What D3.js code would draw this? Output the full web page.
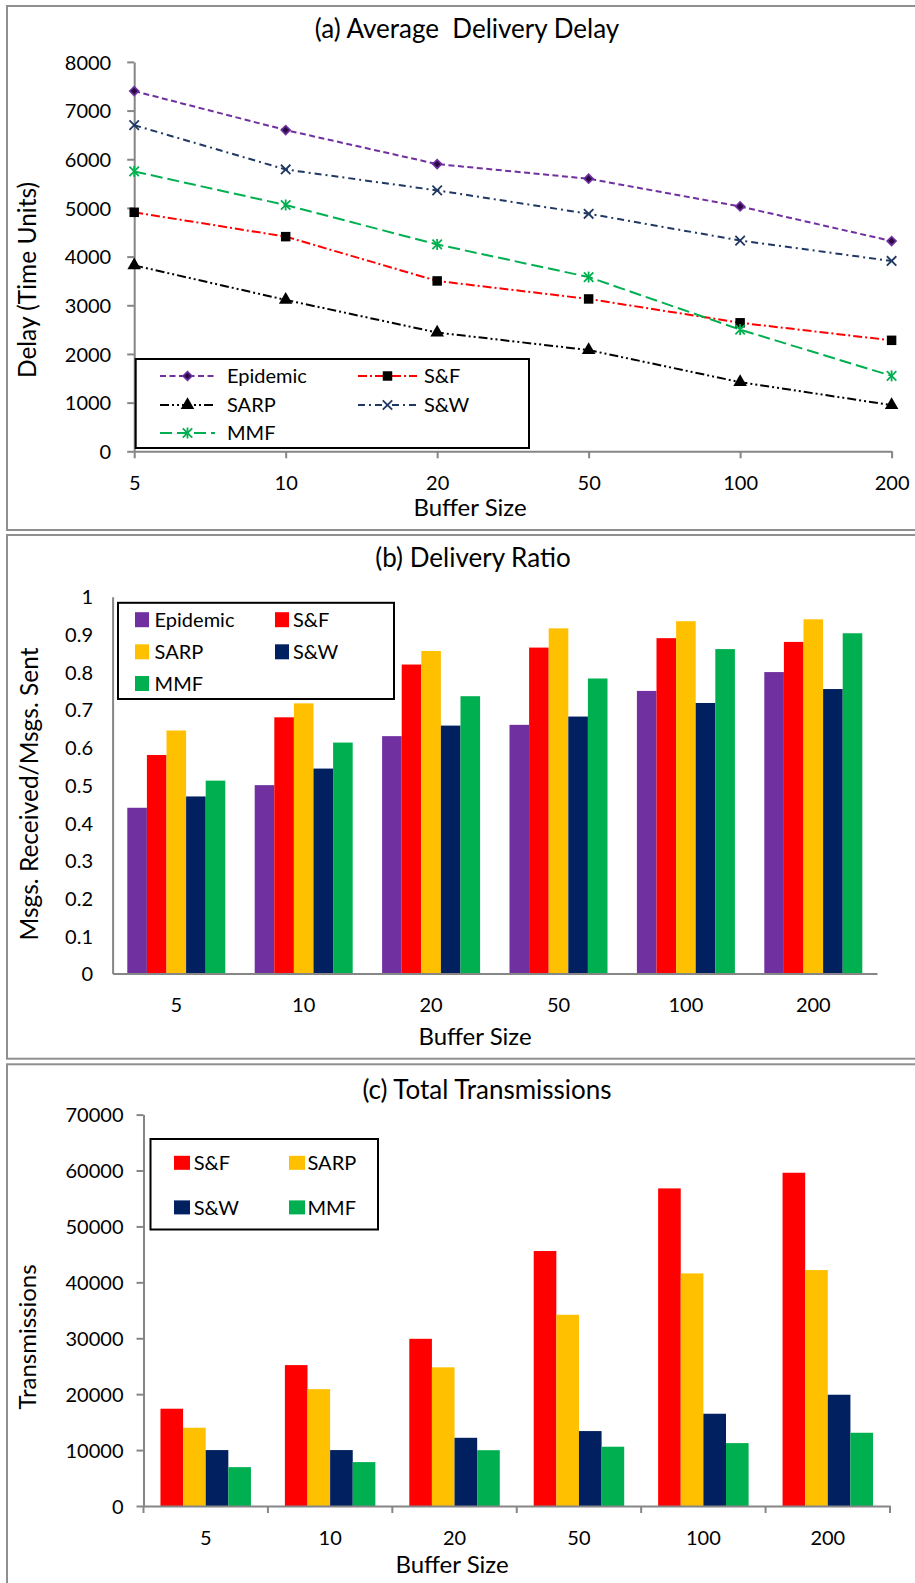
<!DOCTYPE html>
<html>
<head>
<meta charset="utf-8">
<script src="https://cdn.jsdelivr.net/npm/d3@7"></script>
<style>
  body { margin: 0; background: #fff; }
  svg { display: block; }
  text { font-family: Lato, "Open Sans", "Noto Sans", sans-serif; fill: #000; white-space: pre; }
</style>
</head>
<body>
<script>
// ---- data ----
const bufferSizes = ["5", "10", "20", "50", "100", "200"];

// (a) average delivery delay, in time units
const delayEpidemic = [7400, 6600, 5900, 5600, 5030, 4320];
const delaySF       = [4910, 4410, 3500, 3130, 2640, 2280];
const delaySARP     = [3820, 3110, 2440, 2080, 1420, 950];
const delaySW       = [6700, 5790, 5360, 4880, 4330, 3910];
const delayMMF      = [5750, 5060, 4250, 3580, 2500, 1550];
const delayTicks    = [0, 1000, 2000, 3000, 4000, 5000, 6000, 7000, 8000];

// (b) delivery ratio
const ratioEpidemic = [0.44, 0.50, 0.63, 0.66, 0.75, 0.80];
const ratioSF       = [0.58, 0.68, 0.82, 0.865, 0.89, 0.88];
const ratioSARP     = [0.645, 0.717, 0.856, 0.916, 0.935, 0.94];
const ratioSW       = [0.47, 0.544, 0.658, 0.682, 0.718, 0.755];
const ratioMMF      = [0.512, 0.613, 0.736, 0.783, 0.861, 0.903];
const ratioTicks    = [0, 0.1, 0.2, 0.3, 0.4, 0.5, 0.6, 0.7, 0.8, 0.9, 1];
const ratioTickLabels = ["0", "0.1", "0.2", "0.3", "0.4", "0.5", "0.6", "0.7", "0.8", "0.9", "1"];

// (c) total transmissions
const txSF   = [17400, 25200, 29900, 45600, 56800, 59600];
const txSARP = [14000, 20900, 24800, 34200, 41600, 42200];
const txSW   = [10000, 10000, 12200, 13400, 16500, 19900];
const txMMF  = [6950, 7850, 9980, 10600, 11250, 13100];
const txTicks = [0, 10000, 20000, 30000, 40000, 50000, 60000, 70000];

// ---- styling ----
const COLORS = { Epidemic: "#7030A0", "S&F": "#FF0000", SARP: "#FFC000", "S&W": "#002060", MMF: "#00B050" };
const AXIS_GRAY = "#868686";
const FRAME_GRAY = "#8f8f8f";
const TICK_FONT = 20;
const TITLE_FONT = 26;
const AXIS_TITLE_FONT = 24;
const plain = d3.format("d");

const W = 915, H = 1583;
const svg = d3.select("body").append("svg").attr("width", W).attr("height", H);

function frame(y0, y1) {
  svg.append("rect")
    .attr("x", 7).attr("y", y0).attr("width", W).attr("height", y1 - y0)
    .attr("fill", "none").attr("stroke", FRAME_GRAY).attr("stroke-width", 2);
}

function title(txt, cx, baseline) {
  svg.append("text").attr("x", cx).attr("y", baseline)
    .attr("text-anchor", "middle").style("font-size", TITLE_FONT + "px").text(txt);
}

function xTitle(txt, cx, baseline) {
  svg.append("text").attr("x", cx).attr("y", baseline)
    .attr("text-anchor", "middle").style("font-size", AXIS_TITLE_FONT + "px").text(txt);
}

function yTitle(txt, x, cy, size) {
  svg.append("text")
    .attr("transform", `translate(${x},${cy}) rotate(-90)`)
    .attr("text-anchor", "middle").style("font-size", size + "px").text(txt);
}

function styleAxis(g) {
  g.select(".domain").attr("stroke", AXIS_GRAY).attr("stroke-width", 2);
  g.selectAll(".tick line").attr("stroke", AXIS_GRAY).attr("stroke-width", 2);
  g.selectAll(".tick text").style("font-size", TICK_FONT + "px").attr("fill", "#000");
  g.attr("font-family", null).attr("font-size", null);
}

// ================= (a) Average Delivery Delay =================
(function panelA() {
  frame(6, 530);
  title("(a) Average  Delivery Delay", 467, 38);

  const x = d3.scalePoint().domain(bufferSizes).range([134.2, 891.6]);
  const y = d3.scaleLinear().domain([0, 8000]).range([451.3, 61.9]);

  const yAxis = svg.append("g").attr("transform", `translate(${x.range()[0]},0)`)
    .call(d3.axisLeft(y).tickValues(delayTicks).tickFormat(plain)
      .tickSize(7).tickPadding(16).tickSizeOuter(0));
  styleAxis(yAxis);
  yAxis.selectAll(".tick text").attr("dy", "0.36em");

  const xAxis = svg.append("g").attr("transform", `translate(0,${y(0)})`)
    .call(d3.axisBottom(x).tickSize(7).tickSizeOuter(0));
  styleAxis(xAxis);
  xAxis.selectAll(".tick text").attr("y", 38.7).attr("dy", 0);

  xTitle("Buffer Size", 470, 516);
  yTitle("Delay (Time Units)", 35.5, 280, 24.5);

  const series = [
    { name: "Epidemic", values: delayEpidemic, color: "#7030A0", dash: "6,3.5", marker: "diamond" },
    { name: "S&F", values: delaySF, color: "#FF0000", dash: "9,3,2,3", marker: "square" },
    { name: "SARP", values: delaySARP, color: "#000000", dash: "9,3,2,3,2,3", marker: "triangle" },
    { name: "S&W", values: delaySW, color: "#1F3864", dash: "7,4,2,4", marker: "x" },
    { name: "MMF", values: delayMMF, color: "#00B050", dash: "12,5", marker: "star" }
  ];

  const line = d3.line().x((d, i) => x(bufferSizes[i])).y(d => y(d));

  function drawMarker(g, kind, color) {
    if (kind === "diamond") {
      g.append("path").attr("d", d3.symbol(d3.symbolSquare, 40)())
        .attr("transform", "rotate(45)")
        .attr("fill", "#2b0b45").attr("stroke", color).attr("stroke-width", 1.6);
    } else if (kind === "square") {
      g.append("path").attr("d", d3.symbol(d3.symbolSquare, 90)()).attr("fill", "#000");
    } else if (kind === "triangle") {
      g.append("path").attr("d", d3.symbol(d3.symbolTriangle, 80)()).attr("fill", "#000");
    } else if (kind === "x") {
      g.append("path").attr("d", d3.symbol(d3.symbolX, 60)())
        .attr("fill", "none").attr("stroke", color).attr("stroke-width", 1.8);
    } else if (kind === "star") {
      g.append("path").attr("d", d3.symbol(d3.symbolX, 60)())
        .attr("fill", "none").attr("stroke", color).attr("stroke-width", 1.8);
      g.append("path").attr("d", d3.line()([[0, -5.5], [0, 5.5]]))
        .attr("stroke", color).attr("stroke-width", 1.8);
    }
  }

  series.forEach(s => {
    svg.append("path").datum(s.values)
      .attr("d", line).attr("fill", "none")
      .attr("stroke", s.color).attr("stroke-width", 2).attr("stroke-dasharray", s.dash);
  });
  series.forEach(s => {
    s.values.forEach((v, i) => {
      const g = svg.append("g").attr("transform", `translate(${x(bufferSizes[i])},${y(v)})`);
      drawMarker(g, s.marker, s.color);
    });
  });

  // legend
  svg.append("rect").attr("x", 135.7).attr("y", 359).attr("width", 393.3).attr("height", 89)
    .attr("fill", "#fff").attr("stroke", "#000").attr("stroke-width", 2);
  const colLine = [[160, 215], [358, 417]];
  const colText = [227, 424];
  const rowY = [376, 405, 433];
  series.forEach((s, i) => {
    const c = i % 2, r = Math.floor(i / 2);
    svg.append("path").attr("d", d3.line()([[colLine[c][0], rowY[r]], [colLine[c][1], rowY[r]]]))
      .attr("stroke", s.color).attr("stroke-width", 2).attr("stroke-dasharray", s.dash);
    const g = svg.append("g").attr("transform", `translate(${(colLine[c][0] + colLine[c][1]) / 2},${rowY[r]})`);
    drawMarker(g, s.marker, s.color);
    svg.append("text").attr("x", colText[c]).attr("y", rowY[r]).attr("dy", "0.36em")
      .style("font-size", TICK_FONT + "px").text(s.name);
  });
})();

// ---------- grouped bar helper ----------
function groupedBars(opts) {
  const x = d3.scaleBand().domain(bufferSizes).range([opts.x0, opts.x1]);
  const inner = d3.scaleBand().domain(opts.series.map(s => s.name))
    .range([0, x.bandwidth()]).paddingInner(0).paddingOuter(0.75);
  const y = d3.scaleLinear().domain(opts.domain).range([opts.y0, opts.y1]);

  opts.series.forEach(s => {
    svg.append("g").selectAll("rect").data(s.values).join("rect")
      .attr("x", (d, i) => x(bufferSizes[i]) + inner(s.name))
      .attr("y", d => y(d))
      .attr("width", inner.bandwidth())
      .attr("height", d => y(0) - y(d))
      .attr("fill", COLORS[s.name]);
  });

  const yAxis = svg.append("g").attr("transform", `translate(${opts.x0},0)`)
    .call(d3.axisLeft(y).tickValues(opts.ticks).tickSize(opts.yTick).tickPadding(opts.yPad)
      .tickSizeOuter(0).tickFormat(opts.tickFormat));
  styleAxis(yAxis);
  yAxis.selectAll(".tick text").attr("dy", "0.36em");

  const xAxis = svg.append("g").attr("transform", `translate(0,${opts.y0})`)
    .call(d3.axisBottom(x).tickSize(0).tickSizeOuter(0));
  styleAxis(xAxis);
  xAxis.selectAll(".tick text").attr("y", opts.xLabelOffset).attr("dy", 0);

  if (opts.boundaryTicks) {
    const edges = bufferSizes.map(c => x(c)).concat([opts.x1]);
    svg.append("g").selectAll("line").data(edges).join("line")
      .attr("x1", d => d).attr("x2", d => d)
      .attr("y1", opts.y0).attr("y2", opts.y0 + 7)
      .attr("stroke", AXIS_GRAY).attr("stroke-width", 2);
  }
  return { x, y };
}

function barLegend(box, colSwatch, colText, rowY, sw, series) {
  svg.append("rect").attr("x", box[0]).attr("y", box[1]).attr("width", box[2]).attr("height", box[3])
    .attr("fill", "#fff").attr("stroke", "#000").attr("stroke-width", 2);
  series.forEach((s, i) => {
    const c = i % 2, r = Math.floor(i / 2);
    svg.append("rect").attr("x", colSwatch[c]).attr("y", rowY[r] - sw[1] / 2)
      .attr("width", sw[0]).attr("height", sw[1]).attr("fill", COLORS[s.name]);
    svg.append("text").attr("x", colText[c]).attr("y", rowY[r]).attr("dy", "0.36em")
      .style("font-size", TICK_FONT + "px").text(s.name);
  });
}

// ================= (b) Delivery Ratio =================
(function panelB() {
  frame(535, 1058.7);
  title("(b) Delivery Ratio", 473, 567);

  const series = [
    { name: "Epidemic", values: ratioEpidemic },
    { name: "S&F", values: ratioSF },
    { name: "SARP", values: ratioSARP },
    { name: "S&W", values: ratioSW },
    { name: "MMF", values: ratioMMF }
  ];
  groupedBars({
    series, x0: 112.6, x1: 877, y0: 973.6, y1: 596.7, domain: [0, 1],
    ticks: ratioTicks, tickFormat: (d, i) => ratioTickLabels[i],
    yTick: 0, yPad: 19.6, xLabelOffset: 38, boundaryTicks: false
  });

  xTitle("Buffer Size", 475, 1045);
  yTitle("Msgs. Received/Msgs. Sent", 38, 794, 24.5);

  barLegend([118, 602.8, 276, 96.2], [135, 275], [154.6, 293], [619.7, 651.8, 683.5], [14, 15], series);
})();

// ================= (c) Total Transmissions =================
(function panelC() {
  frame(1064.3, H + 10);
  title("(c) Total Transmissions", 487, 1099);

  const series = [
    { name: "S&F", values: txSF },
    { name: "SARP", values: txSARP },
    { name: "S&W", values: txSW },
    { name: "MMF", values: txMMF }
  ];
  groupedBars({
    series, x0: 143.5, x1: 890, y0: 1506, y1: 1114.6, domain: [0, 70000],
    ticks: txTicks, tickFormat: plain, yTick: 7, yPad: 13, xLabelOffset: 39, boundaryTicks: true
  });

  xTitle("Buffer Size", 452, 1573);
  yTitle("Transmissions", 36, 1337, 24);

  barLegend([150.5, 1139, 227.5, 90.5], [174, 289], [193.7, 307.5], [1162.8, 1207.4], [16, 14], series);
})();
</script>
</body>
</html>
